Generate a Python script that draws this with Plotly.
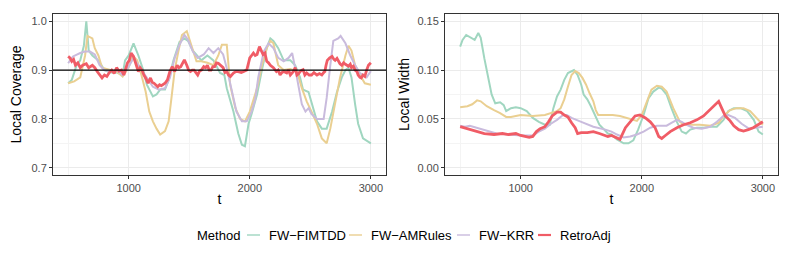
import plotly.graph_objects as go

methods = ["FW\u2212FIMTDD", "FW\u2212AMRules", "FW\u2212KRR", "RetroAdj"]
colors = ["rgb(160,214,192)", "rgb(234,207,145)", "rgb(201,187,221)", "rgb(240,92,102)"]
widths = [2, 2, 2, 2.8]

# Local coverage (t, value)
cov_fimtdd = [(500, .873), (530, .88), (570, .91), (600, .92), (630, .95), (650, 1.0), (670, .94), (700, .93), (750, .92),
              (800, .90), (850, .895), (900, .895), (950, .89), (970, .92), (1000, .93), (1040, .955), (1080, .93), (1120, .90),
              (1150, .87), (1200, .846), (1230, .85), (1260, .86), (1300, .86), (1330, .88), (1370, .92), (1420, .958), (1460, .965),
              (1490, .96), (1530, .94), (1600, .92), (1650, .93), (1700, .92), (1755, .894), (1790, .89), (1810, .863), (1865, .815),
              (1905, .77), (1935, .747), (1960, .744), (1990, .79), (2015, .81), (2060, .85), (2100, .9), (2140, .945), (2170, .965),
              (2195, .96), (2235, .945), (2280, .92), (2335, .92), (2375, .91), (2415, .885), (2440, .86), (2485, .855), (2510, .835),
              (2555, .795), (2595, .78), (2635, .78), (2680, .815), (2720, .855), (2760, .885), (2790, .9), (2815, .905), (2840, .885),
              (2870, .83), (2895, .79), (2935, .76), (2980, .754), (3000, .75)]
cov_amrules = [(500, .873), (550, .877), (600, .885), (640, .93), (660, .97), (700, .965), (720, .945), (750, .93), (780, .905),
               (850, .9), (900, .897), (950, .887), (1000, .905), (1030, .93), (1070, .92), (1100, .895), (1140, .856), (1170, .815),
               (1200, .795), (1230, .78), (1260, .768), (1300, .775), (1330, .795), (1350, .836), (1380, .9), (1410, .938), (1440, .972),
               (1480, .98), (1500, .965), (1530, .938), (1560, .918), (1600, .918), (1650, .915), (1700, .91), (1740, .93), (1770, .952),
               (1810, .952), (1838, .87), (1880, .823), (1920, .8), (1960, .795), (2000, .815), (2060, .863), (2100, .91), (2140, .945),
               (2170, .96), (2195, .955), (2235, .91), (2280, .9), (2335, .902), (2390, .897), (2430, .863), (2470, .836), (2510, .815),
               (2555, .79), (2595, .76), (2635, .75), (2665, .78), (2705, .83), (2745, .884), (2790, .93), (2815, .95), (2840, .94),
               (2870, .91), (2910, .89), (2950, .873), (3000, .87)]
cov_krr = [(500, .914), (540, .928), (600, .935), (640, .938), (680, .938), (720, .932), (760, .91), (800, .9), (850, .897), (900, .9),
           (950, .89), (1000, .907), (1040, .925), (1080, .91), (1120, .897), (1160, .88), (1200, .866), (1250, .86), (1300, .863),
           (1340, .884), (1380, .925), (1420, .952), (1460, .972), (1490, .962), (1530, .938), (1570, .925), (1620, .932), (1660, .945),
           (1700, .935), (1740, .945), (1780, .932), (1810, .904), (1850, .856), (1890, .815), (1935, .795), (1975, .795), (2015, .815),
           (2045, .84), (2070, .885), (2115, .938), (2155, .955), (2195, .945), (2235, .925), (2280, .918), (2320, .925), (2350, .935),
           (2375, .904), (2405, .863), (2430, .83), (2460, .815), (2485, .822), (2510, .81), (2555, .8), (2610, .8), (2635, .843),
           (2665, .91), (2690, .96), (2730, .965), (2750, .97), (2790, .955), (2830, .93), (2870, .91), (2910, .894), (2965, .885), (3000, .898)]
cov_retro = [(500, .928), (515, .925), (530, .918), (545, .922), (560, .91), (580, .915), (600, .905), (620, .91), (650, .913), (670, .905),
             (700, .91), (720, .905), (740, .897), (760, .89), (780, .884), (800, .89), (820, .887), (840, .895), (860, .9), (880, .893),
             (900, .905), (920, .898), (940, .9), (960, .89), (975, .905), (990, .915), (1005, .92), (1020, .935), (1040, .928), (1060, .91),
             (1080, .897), (1095, .905), (1110, .9), (1125, .89), (1140, .884), (1160, .873), (1180, .884), (1195, .875), (1210, .873),
             (1240, .866), (1255, .87), (1270, .868), (1300, .873), (1320, .88), (1340, .897), (1360, .907), (1380, .897), (1400, .91),
             (1415, .905), (1430, .907), (1445, .915), (1460, .921), (1480, .91), (1495, .9), (1510, .897), (1525, .9), (1540, .9),
             (1555, .895), (1570, .89), (1585, .898), (1600, .9), (1620, .907), (1635, .905), (1650, .91), (1665, .9), (1680, .9),
             (1695, .907), (1710, .907), (1725, .915), (1740, .914), (1755, .91), (1780, .905), (1795, .895), (1810, .897), (1825, .89),
             (1840, .887), (1865, .894), (1885, .897), (1905, .897), (1930, .895), (1950, .897), (1975, .9), (1990, .915), (2000, .925),
             (2015, .93), (2030, .935), (2045, .93), (2060, .932), (2080, .948), (2095, .94), (2110, .932), (2125, .935), (2140, .918),
             (2155, .915), (2170, .91), (2195, .905), (2220, .897), (2235, .9), (2250, .89), (2265, .895), (2280, .897), (2305, .894),
             (2320, .9), (2335, .89), (2350, .895), (2360, .897), (2375, .905), (2390, .89), (2405, .893), (2415, .897), (2430, .9),
             (2440, .901), (2455, .89), (2470, .894), (2490, .89), (2510, .89), (2530, .895), (2555, .89), (2575, .893), (2595, .89),
             (2610, .895), (2620, .897), (2630, .91), (2640, .92), (2660, .925), (2680, .928), (2695, .922), (2705, .92), (2720, .924),
             (2730, .918), (2745, .913), (2760, .91), (2775, .915), (2790, .912), (2805, .91), (2815, .908), (2830, .912), (2840, .905),
             (2855, .908), (2870, .9), (2885, .897), (2895, .89), (2910, .885), (2920, .884), (2935, .89), (2950, .887), (2965, .9),
             (2980, .91), (3000, .915)]

# Local width (t, value)
wid_fimtdd = [(500, .124), (520, .131), (550, .136), (580, .134), (620, .131), (650, .138), (670, .133), (700, .112), (730, .092),
              (760, .075), (790, .066), (830, .067), (860, .064), (880, .058), (920, .061), (960, .062), (1000, .061), (1050, .058),
              (1100, .051), (1150, .047), (1200, .044), (1240, .044), (1270, .061), (1300, .073), (1330, .08), (1360, .09), (1390, .097),
              (1420, .099), (1440, .1), (1470, .095), (1500, .085), (1520, .075), (1550, .07), (1580, .063), (1610, .054), (1650, .044),
              (1690, .039), (1720, .035), (1750, .034), (1795, .029), (1850, .025), (1890, .025), (1930, .028), (1970, .039), (2015, .054),
              (2055, .071), (2095, .078), (2140, .082), (2165, .081), (2205, .075), (2245, .061), (2290, .047), (2330, .037), (2365, .035),
              (2400, .039), (2455, .041), (2510, .041), (2565, .042), (2620, .042), (2675, .049), (2715, .058), (2760, .061), (2815, .061),
              (2870, .058), (2925, .049), (2965, .037), (3000, .034)]
wid_amrules = [(500, .062), (560, .063), (600, .065), (640, .069), (670, .068), (720, .063), (780, .059), (830, .056), (880, .052),
               (920, .052), (1000, .054), (1100, .053), (1200, .054), (1250, .056), (1300, .058), (1330, .061), (1360, .07), (1390, .083),
               (1420, .095), (1450, .099), (1480, .097), (1510, .092), (1540, .085), (1570, .076), (1600, .068), (1620, .059), (1640, .054),
               (1680, .054), (1720, .054), (1760, .054), (1820, .053), (1905, .05), (1960, .048), (2000, .054), (2040, .068), (2080, .08),
               (2125, .084), (2165, .083), (2205, .078), (2260, .061), (2315, .047), (2350, .044), (2400, .044), (2480, .044), (2565, .043),
               (2635, .046), (2675, .053), (2730, .059), (2785, .061), (2840, .061), (2895, .058), (2950, .051), (3000, .044)]
wid_krr = [(500, .043), (540, .042), (580, .043), (640, .041), (700, .039), (800, .035), (900, .034), (1000, .033), (1100, .033),
           (1150, .037), (1200, .04), (1250, .045), (1300, .049), (1350, .054), (1380, .054), (1420, .051), (1500, .047), (1600, .042),
           (1700, .039), (1750, .037), (1795, .034), (1850, .031), (1905, .032), (1960, .034), (2015, .037), (2070, .041), (2125, .043),
           (2205, .043), (2245, .046), (2290, .049), (2330, .047), (2370, .044), (2425, .041), (2495, .04), (2565, .042), (2620, .047),
           (2675, .053), (2715, .054), (2770, .051), (2825, .045), (2885, .04), (2940, .041), (3000, .042)]
wid_retro = [(500, .042), (560, .040), (620, .038), (700, .035), (780, .034), (850, .035), (900, .034), (960, .035), (1000, .033),
             (1040, .032), (1070, .031), (1100, .032), (1130, .037), (1160, .04), (1200, .042), (1230, .047), (1260, .053), (1300, .057),
             (1330, .057), (1360, .054), (1390, .052), (1420, .046), (1450, .041), (1470, .035), (1500, .036), (1550, .036), (1600, .037),
             (1650, .035), (1700, .033), (1720, .032), (1750, .033), (1780, .031), (1820, .029), (1865, .041), (1905, .047), (1945, .053),
             (1985, .054), (2030, .051), (2070, .047), (2110, .041), (2140, .032), (2165, .03), (2195, .033), (2235, .037), (2290, .041),
             (2345, .044), (2400, .046), (2455, .049), (2510, .053), (2550, .058), (2595, .064), (2635, .068), (2660, .061), (2690, .053),
             (2730, .048), (2760, .043), (2800, .039), (2840, .0375), (2880, .039), (2920, .041), (2960, .044), (3000, .047)]

coverage = [cov_fimtdd, cov_amrules, cov_krr, cov_retro]
width = [wid_fimtdd, wid_amrules, wid_krr, wid_retro]
target = 0.9
legend_title = "Method"

fig = go.Figure()
for i, name in enumerate(methods):
    t, v = zip(*coverage[i])
    fig.add_trace(go.Scatter(x=t, y=v, mode="lines", name=name, showlegend=False,
                             line=dict(color=colors[i], width=widths[i]), xaxis="x", yaxis="y"))
for i, name in enumerate(methods):
    t, v = zip(*width[i])
    fig.add_trace(go.Scatter(x=t, y=v, mode="lines", name=name, showlegend=False,
                             line=dict(color=colors[i], width=widths[i]), xaxis="x2", yaxis="y2"))

fig.add_shape(type="line", xref="x domain", yref="y", x0=0, x1=1, y0=target, y1=target,
              line=dict(color="black", width=1.1))

# page has an 8px body margin, so the figure is drawn 8px in from the window corner
OFF = 8
W, H = 793 - OFF, 264 - OFF
ml, mt = 53 - OFF, 14 - OFF
mr = W - (778 - OFF)
mb = H - (175 - OFF)
pw = W - ml - mr
ph = H - mt - mb
d1 = (386 - 53) / pw
d2 = (445 - 53) / pw


def px_x(px):
    return (px - OFF - ml) / pw


def px_y(py):
    return 1 - (py - OFF - mt) / ph


# custom legend (ggplot-style compact keys)
leg_y = px_y(235)
fig.add_annotation(x=px_x(195), y=leg_y, xref="paper", yref="paper", text=legend_title, showarrow=False,
                   xanchor="left", yanchor="middle", font=dict(size=13, color="black"))
key_left = [247, 349, 457, 538]
for i, name in enumerate(methods):
    fig.add_shape(type="line", xref="paper", yref="paper", x0=px_x(key_left[i]), x1=px_x(key_left[i] + 13),
                  y0=leg_y, y1=leg_y, line=dict(color=colors[i], width=widths[i] - 0.6))
    fig.add_annotation(x=px_x(key_left[i] + 20), y=leg_y, xref="paper", yref="paper", text=name, showarrow=False,
                       xanchor="left", yanchor="middle", font=dict(size=13, color="black"))

tickfont = dict(size=11, color="#4D4D4D")
axis_common = dict(showline=True, mirror=True, linecolor="#333333", linewidth=1,
                   ticks="outside", ticklen=3, tickcolor="#333333", tickwidth=1,
                   showgrid=True, gridcolor="#EBEBEB", gridwidth=1, zeroline=False,
                   automargin=False)
minor_x = dict(tickvals=[500, 1500, 2500], showgrid=True, gridcolor="#F4F4F4", gridwidth=0.6, ticks="")
xtitle = dict(text="t", font=dict(size=14, color="black"), standoff=0)

fig.update_layout(
    width=W, height=H, margin=dict(l=ml, r=mr, t=mt, b=mb, autoexpand=False),
    paper_bgcolor="white", plot_bgcolor="white",
    font=dict(family="Liberation Sans, Arial, sans-serif", color="#4D4D4D"),
    xaxis=dict(axis_common, domain=[0, d1], anchor="y", range=[375, 3125], tickvals=[1000, 2000, 3000],
               minor=minor_x, title=xtitle, tickfont=tickfont),
    xaxis2=dict(axis_common, domain=[d2, 1], anchor="y2", range=[375, 3125], tickvals=[1000, 2000, 3000],
                minor=minor_x, title=xtitle, tickfont=tickfont),
    yaxis=dict(axis_common, range=[0.685, 1.015], tickvals=[0.7, 0.8, 0.9, 1.0], tickformat=".1f", tickfont=tickfont,
               minor=dict(tickvals=[0.75, 0.85, 0.95], showgrid=True, gridcolor="#F4F4F4", gridwidth=0.6, ticks=""),
               title=dict(text="Local Coverage", font=dict(size=14, color="black"), standoff=6), anchor="x"),
    yaxis2=dict(axis_common, range=[-0.0075, 0.1575], tickvals=[0.0, 0.05, 0.10, 0.15], tickformat=".2f", tickfont=tickfont,
                minor=dict(tickvals=[0.025, 0.075, 0.125], showgrid=True, gridcolor="#F4F4F4", gridwidth=0.6, ticks=""),
                title=dict(text="Local Width", font=dict(size=14, color="black"), standoff=4), anchor="x2"),
    showlegend=False,
)

fig.write_html("out.html")
